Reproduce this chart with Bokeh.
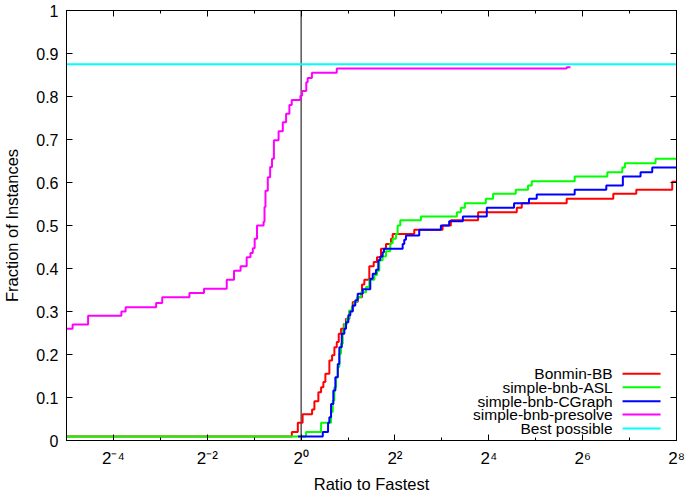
import numpy as np
from bokeh.plotting import figure
from bokeh.models import FixedTicker, LinearAxis, LogAxis, Span
from bokeh.core.properties import value
from bokeh.embed import file_html
from bokeh.resources import INLINE

# ---------------- data (x given as log2 of the ratio to fastest) ----------------
series_names = ["Bonmin-BB", "simple-bnb-ASL", "simple-bnb-CGraph",
                "simple-bnb-presolve", "Best possible"]
series_colors = ["#ff0000", "#00ff00", "#0000ff", "#ff00ff", "#00ffff"]

bonmin_log2 = [-5.0, -0.198, -0.070, 0.032, 0.234, 0.283, 0.368, 0.426, 0.474,
               0.517, 0.602, 0.660, 0.709, 0.760, 0.802, 0.851, 0.909, 0.957,
               1.028, 1.100, 1.206, 1.298, 1.347, 1.453, 1.547, 1.617, 1.702,
               1.809, 1.915, 1.951, 2.411, 3.015, 3.191, 3.772, 4.596, 4.702,
               5.660, 6.653, 7.143, 7.909, 8.0]
bonmin_frac = [0.0093, 0.020, 0.041, 0.061, 0.072, 0.091, 0.112, 0.124, 0.136,
               0.155, 0.186, 0.198, 0.217, 0.229, 0.248, 0.260, 0.271, 0.283,
               0.302, 0.322, 0.333, 0.363, 0.374, 0.405, 0.415, 0.426, 0.446,
               0.457, 0.469, 0.480, 0.490, 0.500, 0.512, 0.531, 0.541, 0.552,
               0.562, 0.574, 0.583, 0.602, 0.602]

asl_log2 = [-5.0, 0.106, 0.426, 0.638, 0.674, 0.709, 0.745, 0.781, 0.815, 0.851,
            0.887, 0.921, 0.979, 1.028, 1.085, 1.134, 1.191, 1.277, 1.383,
            1.453, 1.560, 1.617, 1.666, 1.738, 1.809, 1.900, 1.951, 2.021,
            2.057, 2.113, 2.553, 3.319, 3.404, 3.489, 3.936, 4.091, 4.574,
            4.836, 4.915, 5.830, 6.526, 6.845, 6.900, 7.553, 8.0]
asl_frac = [0.0093, 0.020, 0.041, 0.066, 0.093, 0.124, 0.147, 0.171, 0.202, 0.225,
            0.256, 0.271, 0.283, 0.302, 0.312, 0.322, 0.333, 0.345, 0.357,
            0.374, 0.385, 0.395, 0.419, 0.428, 0.440, 0.459, 0.469, 0.480,
            0.500, 0.512, 0.521, 0.531, 0.541, 0.552, 0.562, 0.574, 0.583,
            0.593, 0.603, 0.614, 0.624, 0.635, 0.645, 0.655, 0.655]

cgraph_log2 = [-0.064, 0.462, 0.574, 0.602, 0.638, 0.687, 0.730, 0.781, 0.815,
               0.866, 0.921, 0.957, 1.006, 1.049, 1.100, 1.155, 1.206, 1.313,
               1.474, 1.526, 1.596, 1.645, 1.687, 1.738, 1.766, 2.164, 2.198,
               2.234, 2.517, 2.979, 3.155, 3.447, 3.957, 4.538, 4.857, 5.021,
               5.830, 6.504, 6.857, 7.234, 7.483, 8.0]
cgraph_frac = [0.0093, 0.020, 0.041, 0.054, 0.085, 0.116, 0.147, 0.178, 0.217,
               0.248, 0.260, 0.275, 0.291, 0.300, 0.314, 0.326, 0.341, 0.352,
               0.376, 0.388, 0.397, 0.419, 0.428, 0.438, 0.446, 0.457, 0.467,
               0.477, 0.490, 0.500, 0.510, 0.521, 0.541, 0.552, 0.562, 0.572,
               0.583, 0.593, 0.614, 0.624, 0.635, 0.635]

presolve_log2 = [-5.0, -4.87, -4.54, -3.83, -3.74, -3.09, -2.96, -2.38, -2.07,
                 -1.585, -1.43, -1.29, -1.16, -1.08, -1.03, -0.99, -0.94, -0.80,
                 -0.78, -0.76, -0.71, -0.66, -0.62, -0.58, -0.48, -0.39, -0.32,
                 -0.25, -0.20, -0.015, 0.02, 0.11, 0.14, 0.23, 0.76, 5.66, 5.74]
presolve_frac = [0.260, 0.270, 0.290, 0.300, 0.310, 0.320, 0.333, 0.343, 0.353,
                 0.374, 0.395, 0.405, 0.426, 0.436, 0.447, 0.469, 0.500, 0.509,
                 0.543, 0.581, 0.612, 0.636, 0.655, 0.698, 0.719, 0.740, 0.760,
                 0.780, 0.792, 0.802, 0.813, 0.833, 0.843, 0.855, 0.865, 0.868,
                 0.868]

best_log2 = [-5.0, 8.0]
best_frac = [0.875, 0.875]

x_major_exp = [-4, -2, 0, 2, 4, 6, 8]
x_minor_exp = [-5, -3, -1, 1, 3, 5, 7]
x_tick_labels = ["2\u207b\u2074", "2\u207b\u00b2", "2\u2070", "2\u00b2",
                 "2\u2074", "2\u2076", "2\u2078"]
y_ticks = [0.0, 0.1, 0.2, 0.3, 0.4, 0.5, 0.6, 0.7, 0.8, 0.9, 1.0]
y_tick_labels = ["0", "0.1", "0.2", "0.3", "0.4", "0.5", "0.6", "0.7",
                 "0.8", "0.9", "1"]

# ---------------- figure ----------------
FONT = "Liberation Sans"
TICK_FS = "16px"
XTICK_FS = "17px"
LABEL_FS = "16.5px"
KEY_FS = "15.5px"


def ratio(exps):
    return [2.0 ** e for e in exps]


p = figure(width=685, height=497, x_axis_type="log",
           x_range=(2.0 ** -5, 2.0 ** 8), y_range=(0, 1),
           output_backend="svg", toolbar_location=None,
           min_border_left=66, min_border_right=9,
           min_border_top=10, min_border_bottom=57,
           x_axis_label="Ratio to Fastest",
           y_axis_label="Fraction of Instances")
p.grid.visible = False
p.outline_line_color = "black"
p.outline_line_width = 1
p.background_fill_color = "white"
p.border_fill_color = "white"

x_over = {2.0 ** e: lab for e, lab in zip(x_major_exp, x_tick_labels)}
y_over = {t: lab for t, lab in zip(y_ticks, y_tick_labels)}


def style_axis(ax):
    ax.axis_line_color = "black"
    ax.major_tick_in = 6
    ax.major_tick_out = 0
    ax.minor_tick_in = 3
    ax.minor_tick_out = 0
    ax.major_tick_line_color = "black"
    ax.minor_tick_line_color = "black"
    ax.major_label_text_font = FONT
    ax.major_label_text_font_size = TICK_FS
    ax.major_label_text_color = "black"
    ax.axis_label_text_font = FONT
    ax.axis_label_text_font_size = LABEL_FS
    ax.axis_label_text_font_style = "normal"
    ax.axis_label_text_color = "black"


xa = p.xaxis[0]
xa.ticker = FixedTicker(ticks=ratio(x_major_exp), minor_ticks=ratio(x_minor_exp))
xa.major_label_overrides = x_over
style_axis(xa)
xa.major_label_text_font_size = XTICK_FS
xa.major_label_standoff = 8
xa.axis_label_standoff = 4

ya = p.yaxis[0]
ya.ticker = FixedTicker(ticks=y_ticks)
ya.major_label_overrides = y_over
style_axis(ya)
ya.minor_tick_line_color = None
ya.major_label_standoff = 8
ya.axis_label_standoff = 12


def mirror(ax, positions, length):
    # tick-only mirror axis: no labels, ticks pointing into the frame
    ax.ticker = FixedTicker(ticks=[], minor_ticks=positions)
    ax.axis_line_color = "black"
    ax.major_tick_line_color = None
    ax.minor_tick_line_color = "black"
    ax.minor_tick_in = length
    ax.minor_tick_out = 0
    ax.major_label_standoff = 0
    ax.axis_label_standoff = 0
    return ax


p.add_layout(mirror(LogAxis(), ratio(x_major_exp), 6), "above")
p.add_layout(mirror(LogAxis(), ratio(x_minor_exp), 3), "above")
p.add_layout(mirror(LinearAxis(), y_ticks, 6), "right")

# vertical reference line at ratio 1
p.add_layout(Span(location=1.0, dimension="height", line_color="black",
                  line_width=1, level="underlay"))

curves = [(bonmin_log2, bonmin_frac), (asl_log2, asl_frac),
          (cgraph_log2, cgraph_frac), (presolve_log2, presolve_frac)]
for (lx, fy), col in zip(curves, series_colors[:4]):
    p.step(ratio(lx), fy, mode="after", line_color=col, line_width=2)

p.line(ratio(best_log2), best_frac, line_color=series_colors[4], line_width=2)

# ---------------- key (text right-aligned, sample line to its right) ----------------
key_rows = [0.155, 0.124, 0.0914, 0.0605, 0.0279]
key_text_exp = 6.64
key_line_exp = (6.85, 7.66)
p.text(x=[2.0 ** key_text_exp] * 5, y=key_rows, text=series_names,
       text_align="right", text_baseline="middle",
       text_font=value(FONT), text_font_size=KEY_FS, text_color="black")
p.multi_line(xs=[[2.0 ** key_line_exp[0], 2.0 ** key_line_exp[1]]] * 5,
             ys=[[r, r] for r in key_rows], line_color=series_colors,
             line_width=2)

open("out.html", "w").write(file_html(p, INLINE))
